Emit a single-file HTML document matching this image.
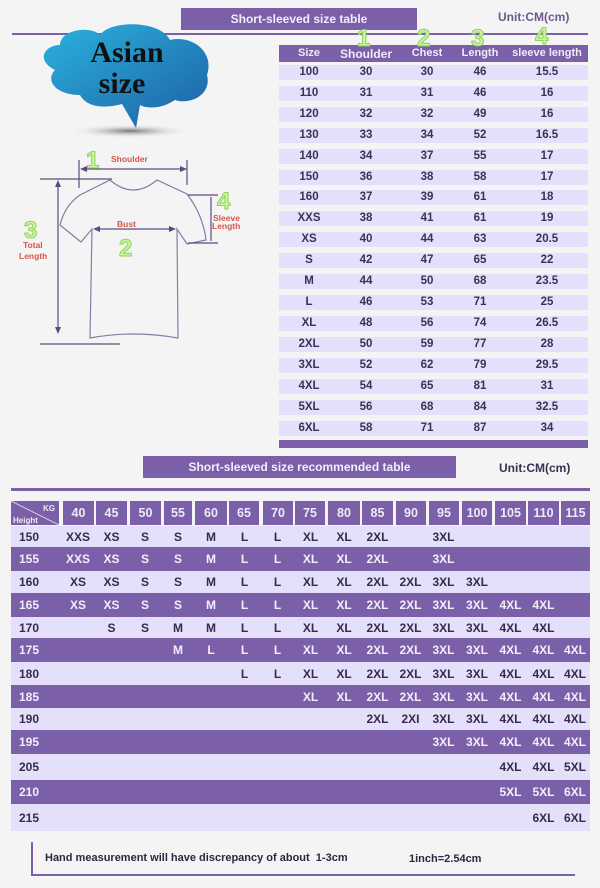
<!DOCTYPE html>
<html><head><meta charset="utf-8"><style>
*{margin:0;padding:0;box-sizing:border-box}
body{width:600px;height:888px;background:#f4f4f5;position:relative;overflow:hidden;font-family:"Liberation Sans",sans-serif;font-weight:bold}
.a{position:absolute}
.ban{background:#7b5fa9;color:#f2eefa;font-size:12px;text-align:center}
.t1 .r{position:absolute;left:279px;width:309px;height:15px;background:#e4e0fb;font-size:11.5px;color:#3b3153}
.t1 .r span,.t1 .h span{position:absolute;top:1px;width:60px;margin-left:-30px;text-align:center}
.t1 .h{position:absolute;left:279px;top:45px;width:309px;height:17px;background:#7b5fa9;color:#f0ecf8;font-size:11px}
.t1 .h span{top:2px;width:80px;margin-left:-40px}
table{position:absolute;left:11px;top:526px;width:579px;border-collapse:collapse;table-layout:fixed;font-size:12px}
td{text-align:center;padding:0;overflow:visible;white-space:nowrap}
td:first-child{text-align:left;padding-left:8px}
tr.l{background:#e4e0fb;color:#352b4d}
tr.d{background:#7b5fa9;color:#f3effa}
.hc{position:absolute;top:501px;height:24px;background:#7b5fa9;color:#eeeaf7;font-size:12.5px;text-align:center;line-height:24px}
.g{fill:#c9f5a0;stroke:#8ed456;stroke-width:1;font-family:"Liberation Sans",sans-serif;font-size:24px}
</style></head><body>
<div class="a ban" style="left:181px;top:8px;width:236px;height:22px;line-height:22px">Short-sleeved size table</div>
<div class="a" style="left:498px;top:10px;font-size:12px;color:#6a5a8e">Unit:CM(cm)</div>
<div class="a" style="left:12px;top:33px;width:576px;height:2px;background:#7b5fa9"></div>

<svg class="a" style="left:0;top:0" width="280" height="350">
 <defs><linearGradient id="cg" x1="0" y1="0" x2="1" y2="1"><stop offset="0" stop-color="#2bb3dd"/><stop offset="1" stop-color="#1d5fa5"/></linearGradient>
 <radialGradient id="sh"><stop offset="0" stop-color="#777"/><stop offset="1" stop-color="#f4f4f5" stop-opacity="0"/></radialGradient></defs>
 <ellipse cx="130" cy="131" rx="62" ry="7" fill="url(#sh)"/>
 <path d="M60 45 C60 30 90 25 100 35 C110 20 160 20 170 40 C190 35 215 50 207 75 C212 95 190 105 175 100 C160 110 145 108 140 105 L136 128 L122 104 C100 110 85 105 80 95 C55 95 45 80 55 70 C35 60 45 45 60 45Z" fill="url(#cg)"/>
 <text x="127" y="62" text-anchor="middle" font-family="Liberation Serif,serif" font-size="30" font-weight="bold" fill="#111">Asian</text>
 <text x="122" y="93" text-anchor="middle" font-family="Liberation Serif,serif" font-size="30" font-weight="bold" fill="#111">size</text>
 <g stroke="#5a4a80" stroke-width="1.2" fill="none">
  <path d="M110 180 Q133 200 157 180 L187 194 Q203 215 206 240 L187 244 L177 229 L178 338 Q133 330 90 338 L92 229 L81 242 L60 225 Q65 205 80 195 Z" stroke="#8a7aa8"/>
  <line x1="79" y1="160" x2="79" y2="188"/><line x1="187" y1="160" x2="187" y2="185"/>
  <line x1="82" y1="169" x2="185" y2="169"/>
  <line x1="40" y1="179" x2="112" y2="179"/><line x1="40" y1="344" x2="120" y2="344"/>
  <line x1="58" y1="182" x2="58" y2="331"/>
  <line x1="188" y1="195" x2="218" y2="195"/><line x1="188" y1="243" x2="218" y2="243"/>
  <line x1="211" y1="197" x2="211" y2="241"/>
  <line x1="95" y1="229" x2="174" y2="229"/>
 </g>
 <g fill="#5a4a80"><path d="M80 169 L87 166 L87 172Z"/><path d="M187 169 L180 166 L180 172Z"/>
  <path d="M58 180 L55 187 L61 187Z"/><path d="M58 334 L55 327 L61 327Z"/>
  <path d="M93 229 L100 226 L100 232Z"/><path d="M176 229 L169 226 L169 232Z"/></g>
 <g class="g"><text x="86" y="168">1</text><text x="119" y="256">2</text><text x="24" y="238">3</text><text x="217" y="209">4</text></g>
 <g fill="#d9544a" font-size="8.5" font-family="Liberation Sans,sans-serif" font-weight="bold">
  <text x="111" y="162">Shoulder</text><text x="117" y="227">Bust</text>
  <text x="23" y="248">Total</text><text x="19" y="259">Length</text>
  <text x="213" y="221">Sleeve</text><text x="212" y="229">Length</text></g>
</svg>

<div class="t1">
<div class="h"><span style="left:30px">Size</span><span style="left:87px;font-size:12px">Shoulder</span><span style="left:148px">Chest</span><span style="left:201px">Length</span><span style="left:268px">sleeve length</span></div>
<div class="r" style="top:65px"><span style="left:30px">100</span><span style="left:87px">30</span><span style="left:148px">30</span><span style="left:201px">46</span><span style="left:268px">15.5</span></div>
<div class="r" style="top:86px"><span style="left:30px">110</span><span style="left:87px">31</span><span style="left:148px">31</span><span style="left:201px">46</span><span style="left:268px">16</span></div>
<div class="r" style="top:107px"><span style="left:30px">120</span><span style="left:87px">32</span><span style="left:148px">32</span><span style="left:201px">49</span><span style="left:268px">16</span></div>
<div class="r" style="top:128px"><span style="left:30px">130</span><span style="left:87px">33</span><span style="left:148px">34</span><span style="left:201px">52</span><span style="left:268px">16.5</span></div>
<div class="r" style="top:149px"><span style="left:30px">140</span><span style="left:87px">34</span><span style="left:148px">37</span><span style="left:201px">55</span><span style="left:268px">17</span></div>
<div class="r" style="top:170px"><span style="left:30px">150</span><span style="left:87px">36</span><span style="left:148px">38</span><span style="left:201px">58</span><span style="left:268px">17</span></div>
<div class="r" style="top:190px"><span style="left:30px">160</span><span style="left:87px">37</span><span style="left:148px">39</span><span style="left:201px">61</span><span style="left:268px">18</span></div>
<div class="r" style="top:211px"><span style="left:30px">XXS</span><span style="left:87px">38</span><span style="left:148px">41</span><span style="left:201px">61</span><span style="left:268px">19</span></div>
<div class="r" style="top:232px"><span style="left:30px">XS</span><span style="left:87px">40</span><span style="left:148px">44</span><span style="left:201px">63</span><span style="left:268px">20.5</span></div>
<div class="r" style="top:253px"><span style="left:30px">S</span><span style="left:87px">42</span><span style="left:148px">47</span><span style="left:201px">65</span><span style="left:268px">22</span></div>
<div class="r" style="top:274px"><span style="left:30px">M</span><span style="left:87px">44</span><span style="left:148px">50</span><span style="left:201px">68</span><span style="left:268px">23.5</span></div>
<div class="r" style="top:295px"><span style="left:30px">L</span><span style="left:87px">46</span><span style="left:148px">53</span><span style="left:201px">71</span><span style="left:268px">25</span></div>
<div class="r" style="top:316px"><span style="left:30px">XL</span><span style="left:87px">48</span><span style="left:148px">56</span><span style="left:201px">74</span><span style="left:268px">26.5</span></div>
<div class="r" style="top:337px"><span style="left:30px">2XL</span><span style="left:87px">50</span><span style="left:148px">59</span><span style="left:201px">77</span><span style="left:268px">28</span></div>
<div class="r" style="top:358px"><span style="left:30px">3XL</span><span style="left:87px">52</span><span style="left:148px">62</span><span style="left:201px">79</span><span style="left:268px">29.5</span></div>
<div class="r" style="top:379px"><span style="left:30px">4XL</span><span style="left:87px">54</span><span style="left:148px">65</span><span style="left:201px">81</span><span style="left:268px">31</span></div>
<div class="r" style="top:400px"><span style="left:30px">5XL</span><span style="left:87px">56</span><span style="left:148px">68</span><span style="left:201px">84</span><span style="left:268px">32.5</span></div>
<div class="r" style="top:421px"><span style="left:30px">6XL</span><span style="left:87px">58</span><span style="left:148px">71</span><span style="left:201px">87</span><span style="left:268px">34</span></div>
<div class="a" style="left:279px;top:440px;width:309px;height:8px;background:#7b5fa9"></div>
</div>
<svg class="a" style="left:0;top:0" width="600" height="60"><g class="g"><text x="357" y="46">1</text><text x="417" y="46">2</text><text x="471" y="46">3</text><text x="535" y="44">4</text></g></svg>

<div class="a ban" style="left:143px;top:456px;width:313px;height:22px;line-height:22px">Short-sleeved size recommended table</div>
<div class="a" style="left:499px;top:461px;font-size:12px;color:#3a3050">Unit:CM(cm)</div>
<div class="a" style="left:11px;top:488px;width:579px;height:3px;background:#7b5fa9"></div>

<div class="hc" style="left:11px;width:48px"><svg width="48" height="24" style="position:absolute;left:0;top:0"><line x1="0" y1="0" x2="48" y2="24" stroke="#e8e4f4" stroke-width="0.8"/><text x="32" y="10" font-size="8" fill="#eee">KG</text><text x="2" y="22" font-size="8" fill="#eee">Height</text></svg></div>
<div class="hc" style="left:63px;width:31px">40</div><div class="hc" style="left:96px;width:31px">45</div>
<div class="hc" style="left:130px;width:31px">50</div><div class="hc" style="left:164px;width:28px">55</div>
<div class="hc" style="left:195px;width:32px">60</div><div class="hc" style="left:229px;width:30px">65</div>
<div class="hc" style="left:263px;width:30px">70</div><div class="hc" style="left:295px;width:30px">75</div>
<div class="hc" style="left:328px;width:32px">80</div><div class="hc" style="left:362px;width:31px">85</div>
<div class="hc" style="left:396px;width:30px">90</div><div class="hc" style="left:429px;width:30px">95</div>
<div class="hc" style="left:462px;width:30px">100</div><div class="hc" style="left:495px;width:31px">105</div>
<div class="hc" style="left:528px;width:31px">110</div><div class="hc" style="left:561px;width:29px">115</div>

<table>
<colgroup><col style="width:50px"><col style="width:34px"><col style="width:33px"><col style="width:34px"><col style="width:32px"><col style="width:34px"><col style="width:33px"><col style="width:33px"><col style="width:33px"><col style="width:34px"><col style="width:33px"><col style="width:33px"><col style="width:33px"><col style="width:34px"><col style="width:33px"><col style="width:33px"><col style="width:30px"></colgroup>
<tr class="l" style="height:21px"><td>150</td><td>XXS</td><td>XS</td><td>S</td><td>S</td><td>M</td><td>L</td><td>L</td><td>XL</td><td>XL</td><td>2XL</td><td></td><td>3XL</td><td></td><td></td><td></td><td></td></tr>
<tr class="d" style="height:24px"><td>155</td><td>XXS</td><td>XS</td><td>S</td><td>S</td><td>M</td><td>L</td><td>L</td><td>XL</td><td>XL</td><td>2XL</td><td></td><td>3XL</td><td></td><td></td><td></td><td></td></tr>
<tr class="l" style="height:22px"><td>160</td><td>XS</td><td>XS</td><td>S</td><td>S</td><td>M</td><td>L</td><td>L</td><td>XL</td><td>XL</td><td>2XL</td><td>2XL</td><td>3XL</td><td>3XL</td><td></td><td></td><td></td></tr>
<tr class="d" style="height:24px"><td>165</td><td>XS</td><td>XS</td><td>S</td><td>S</td><td>M</td><td>L</td><td>L</td><td>XL</td><td>XL</td><td>2XL</td><td>2XL</td><td>3XL</td><td>3XL</td><td>4XL</td><td>4XL</td><td></td></tr>
<tr class="l" style="height:21px"><td>170</td><td></td><td>S</td><td>S</td><td>M</td><td>M</td><td>L</td><td>L</td><td>XL</td><td>XL</td><td>2XL</td><td>2XL</td><td>3XL</td><td>3XL</td><td>4XL</td><td>4XL</td><td></td></tr>
<tr class="d" style="height:24px"><td>175</td><td></td><td></td><td></td><td>M</td><td>L</td><td>L</td><td>L</td><td>XL</td><td>XL</td><td>2XL</td><td>2XL</td><td>3XL</td><td>3XL</td><td>4XL</td><td>4XL</td><td>4XL</td></tr>
<tr class="l" style="height:23px"><td>180</td><td></td><td></td><td></td><td></td><td></td><td>L</td><td>L</td><td>XL</td><td>XL</td><td>2XL</td><td>2XL</td><td>3XL</td><td>3XL</td><td>4XL</td><td>4XL</td><td>4XL</td></tr>
<tr class="d" style="height:23px"><td>185</td><td></td><td></td><td></td><td></td><td></td><td></td><td></td><td>XL</td><td>XL</td><td>2XL</td><td>2XL</td><td>3XL</td><td>3XL</td><td>4XL</td><td>4XL</td><td>4XL</td></tr>
<tr class="l" style="height:22px"><td>190</td><td></td><td></td><td></td><td></td><td></td><td></td><td></td><td></td><td></td><td>2XL</td><td>2XI</td><td>3XL</td><td>3XL</td><td>4XL</td><td>4XL</td><td>4XL</td></tr>
<tr class="d" style="height:24px"><td>195</td><td></td><td></td><td></td><td></td><td></td><td></td><td></td><td></td><td></td><td></td><td></td><td>3XL</td><td>3XL</td><td>4XL</td><td>4XL</td><td>4XL</td></tr>
<tr class="l" style="height:26px"><td>205</td><td></td><td></td><td></td><td></td><td></td><td></td><td></td><td></td><td></td><td></td><td></td><td></td><td></td><td>4XL</td><td>4XL</td><td>5XL</td></tr>
<tr class="d" style="height:24px"><td>210</td><td></td><td></td><td></td><td></td><td></td><td></td><td></td><td></td><td></td><td></td><td></td><td></td><td></td><td>5XL</td><td>5XL</td><td>6XL</td></tr>
<tr class="l" style="height:27px"><td>215</td><td></td><td></td><td></td><td></td><td></td><td></td><td></td><td></td><td></td><td></td><td></td><td></td><td></td><td></td><td>6XL</td><td>6XL</td></tr>
</table>

<div class="a" style="left:31px;top:842px;width:2px;height:34px;background:#7b5fa9"></div>
<div class="a" style="left:31px;top:874px;width:544px;height:2px;background:#7b5fa9"></div>
<div class="a" style="left:45px;top:852px;font-size:11px;color:#2e2640">Hand measurement will have discrepancy of about&nbsp; 1-3cm</div>
<div class="a" style="left:409px;top:853px;font-size:11px;color:#2e2640">1inch=2.54cm</div>
</body></html>
